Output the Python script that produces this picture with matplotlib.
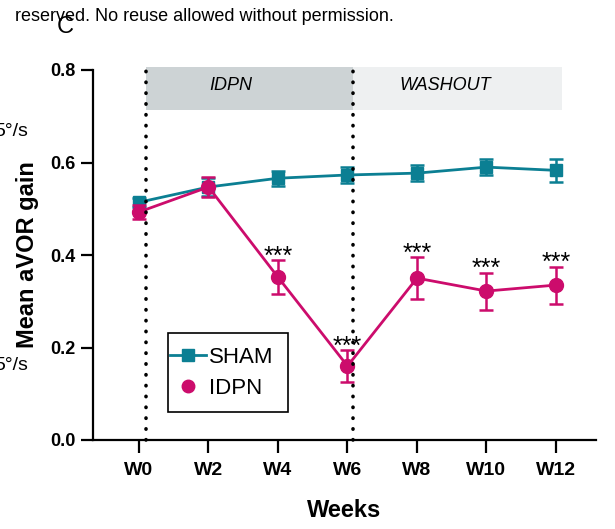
"""Mean aVOR gain over weeks, SHAM vs IDPN."""

import matplotlib.pyplot as plt
from matplotlib.lines import Line2D
from matplotlib.patches import Rectangle

plt.rcParams["font.family"] = ["Liberation Sans", "DejaVu Sans"]

weeks = ["W0", "W2", "W4", "W6", "W8", "W10", "W12"]
sham_mean = [0.514, 0.547, 0.566, 0.573, 0.577, 0.590, 0.583]
sham_err = [0.010, 0.020, 0.016, 0.017, 0.018, 0.018, 0.025]
idpn_mean = [0.493, 0.547, 0.352, 0.160, 0.350, 0.322, 0.335]
idpn_err = [0.015, 0.022, 0.037, 0.034, 0.045, 0.040, 0.040]
stars = ["", "", "***", "***", "***", "***", "***"]
phases = ["IDPN", "WASHOUT"]

TEAL = "#0b7f93"
MAGENTA = "#cc0c6c"

fig = plt.figure(figsize=(6.15, 5.29), dpi=100)
ax = fig.add_axes([93 / 615, 1 - 440 / 529, 503 / 615, 370 / 529])
x = list(range(len(weeks)))

# phase bands across the top
band_bottom = 0.7135
ax.fill_between([0.10, 3.08], band_bottom, 0.806, color="#cdd3d5", lw=0, zorder=0, clip_on=False)
ax.fill_between([3.08, 6.09], band_bottom, 0.806, color="#eef0f1", lw=0, zorder=0, clip_on=False)
ax.text(1.32, 0.766, phases[0], ha="center", va="center", style="italic", fontsize=13)
ax.text(4.40, 0.766, phases[1], ha="center", va="center", style="italic", fontsize=13)

for xv in (0.10, 3.08):
    ax.plot([xv, xv], [0, 0.806], color="black", lw=2.6,
            linestyle=(0, (0.1, 2.9)), dash_capstyle="round", zorder=6, clip_on=False)

ax.errorbar(x, sham_mean, yerr=sham_err, color=TEAL, marker="s", ms=9,
            lw=2, capsize=5, capthick=1.8, elinewidth=1.8, zorder=3)
ax.errorbar(x, idpn_mean, yerr=idpn_err, color=MAGENTA, marker="o", ms=10,
            lw=2, capsize=5, capthick=1.8, elinewidth=1.8, zorder=4)

for xi, m, e, s in zip(x, idpn_mean, idpn_err, stars):
    if s:
        ax.text(xi, m + e - 0.008, s, ha="center", va="baseline", fontsize=18)

ax.set_xlim(-0.662, 6.576)
ax.set_ylim(0, 0.8)
ax.set_yticks([0, 0.2, 0.4, 0.6, 0.8])
ax.set_yticklabels(["0.0", "0.2", "0.4", "0.6", "0.8"])
ax.set_xticks(x)
ax.set_xticklabels(weeks)
for lbl in ax.get_xticklabels() + ax.get_yticklabels():
    lbl.set_fontweight("bold")
ax.tick_params(axis="both", width=1.6, length=9, direction="out")
ax.tick_params(axis="y", labelsize=13)
ax.tick_params(axis="x", labelsize=14, pad=7)
ax.spines["top"].set_visible(False)
ax.spines["right"].set_visible(False)
ax.spines["left"].set_linewidth(1.6)
ax.spines["bottom"].set_linewidth(1.6)

ax.set_xlabel("Weeks", fontsize=17, fontweight="bold", labelpad=14)
ax.set_ylabel("Mean aVOR gain", fontsize=17, fontweight="bold", labelpad=8)

# legend: box drawn separately so the line handle can touch the frame
handles = [
    Line2D([], [], color=TEAL, marker="s", ms=8, lw=2),
    Line2D([], [], color=MAGENTA, marker="o", ms=9, lw=0),
]
ax.legend(handles, ["SHAM", "IDPN"], loc="upper left",
          bbox_to_anchor=((168 - 93) / 503, (440 - 345) / 370),
          fontsize=16, frameon=False, borderaxespad=0, borderpad=0.1,
          handlelength=1.6, handletextpad=0.15, labelspacing=0.45)
ax.add_patch(Rectangle(((168 - 93) / 503, (440 - 412) / 370), 120 / 503, 79 / 370,
                       transform=ax.transAxes, fill=False, edgecolor="black",
                       lw=1.2, zorder=7))

# cropped surroundings from the source page
fig.text(15 / 615, 1 - 21 / 529, "reserved. No reuse allowed without permission.",
         fontsize=13, va="baseline")
fig.text(57 / 615, 1 - 33 / 529, "C", fontsize=17, va="baseline")
fig.text(28 / 615, 1 - 131 / 529, "5°/s", fontsize=14, ha="right", va="center")
fig.text(28 / 615, 1 - 366 / 529, "5°/s", fontsize=14, ha="right", va="center")

plt.savefig("out.png", dpi=100)
